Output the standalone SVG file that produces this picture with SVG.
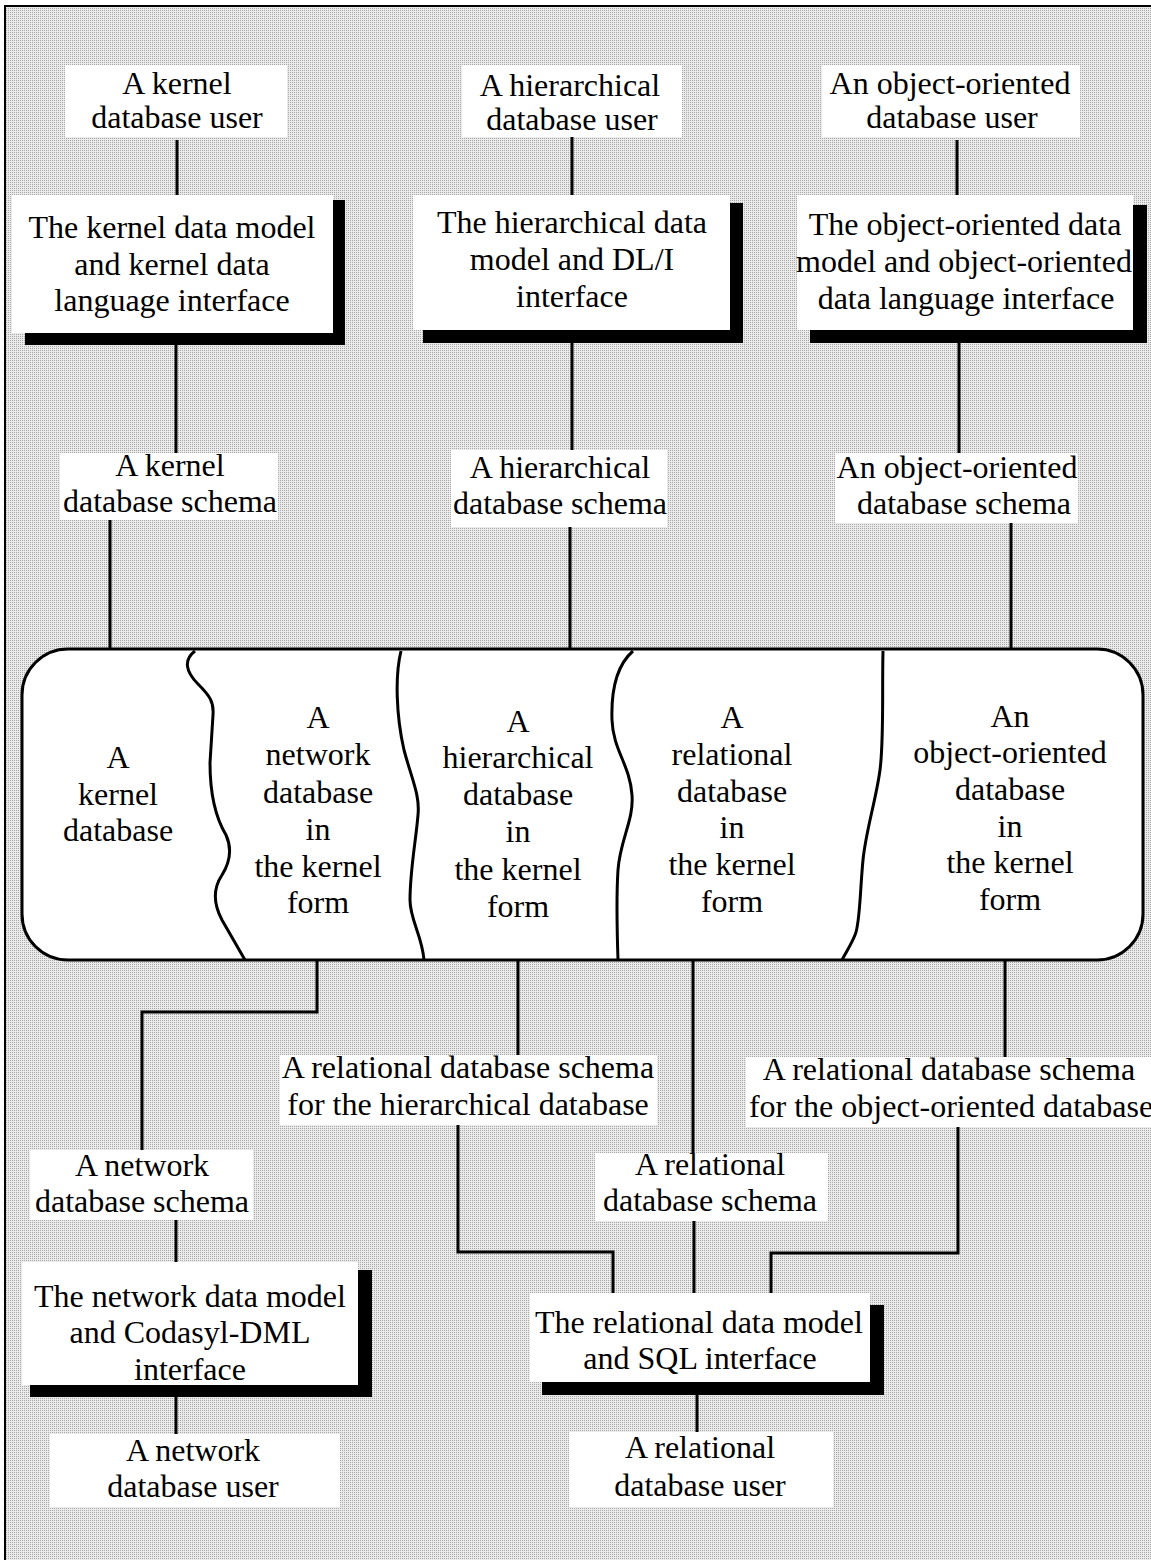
<svg xmlns="http://www.w3.org/2000/svg" width="1151" height="1560" viewBox="0 0 1151 1560">
  <defs>
    <!-- fine grey screen used as the page background -->
    <pattern id="stipple" x="0" y="0" width="2" height="2" patternUnits="userSpaceOnUse">
      <rect width="2" height="2" fill="#eaeaea"/>
      <rect x="0" y="0" width="1" height="1" fill="#a8a8a8"/>
    </pattern>
    <style>
      text { font-family: "Liberation Serif", "Times New Roman", serif; font-size: 32px; fill: #000; text-anchor: middle; }
      .label { fill: #fff; }
      .panel { fill: #fff; }
      .shadow { fill: #000; }
      .wire { stroke: #000; stroke-width: 3; fill: none; }
      .store { fill: #fff; stroke: #000; stroke-width: 3; }
      .split { fill: none; stroke: #000; stroke-width: 3; }
    </style>
  </defs>

  <!-- page -->
  <rect width="1151" height="1560" fill="#fff"/>
  <rect x="5" y="6" width="1146" height="1554" fill="url(#stipple)"/>
  <path d="M5,1560 V6 H1151" fill="none" stroke="#000" stroke-width="2"/>

  <!-- connectors -->
  <g id="connectors" class="wire">
    <path d="M177,140 V195"/>
    <path d="M176,345 V453"/>
    <path d="M110,520 V650"/>
    <path d="M572,135 V195"/>
    <path d="M572,343 V450"/>
    <path d="M570,527 V650"/>
    <path d="M957,140 V197"/>
    <path d="M959,343 V453"/>
    <path d="M1011,523 V650"/>
    <path d="M317,960 V1012 H142 V1150"/>
    <path d="M518,960 V1055"/>
    <path d="M693,960 V1153"/>
    <path d="M1005,960 V1057"/>
    <path d="M458,1125 V1252 H613 V1293"/>
    <path d="M694,1221 V1293"/>
    <path d="M958,1125 V1253 H771 V1293"/>
    <path d="M176,1220 V1262"/>
    <path d="M176,1397 V1434"/>
    <path d="M697,1395 V1432"/>
  </g>

  <!-- users and interfaces at the top -->
  <g id="kernel-user">
    <rect class="label" x="65" y="65" width="222" height="72"/>
    <text x="177" y="94">A kernel</text>
    <text x="177" y="128">database user</text>
  </g>
  <g id="hier-user">
    <rect class="label" x="462" y="65" width="220" height="72"/>
    <text x="570" y="96">A hierarchical</text>
    <text x="572" y="130">database user</text>
  </g>
  <g id="oo-user">
    <rect class="label" x="822" y="65" width="258" height="72"/>
    <text x="950" y="94">An object-oriented</text>
    <text x="952" y="128">database user</text>
  </g>

  <g id="kernel-interface">
    <rect class="panel" x="12" y="195" width="321" height="138"/>
    <path class="shadow" d="M333,200 H345 V345 H25 V333 H333 Z"/>
    <text x="172" y="238">The kernel data model</text>
    <text x="172" y="275">and kernel data</text>
    <text x="172" y="311">language interface</text>
  </g>
  <g id="hier-interface">
    <rect class="panel" x="413" y="195" width="317" height="135"/>
    <path class="shadow" d="M730,203 H743 V343 H423 V330 H730 Z"/>
    <text x="572" y="233">The hierarchical data</text>
    <text x="572" y="270">model and DL/I</text>
    <text x="572" y="307">interface</text>
  </g>
  <g id="oo-interface">
    <rect class="panel" x="797" y="195" width="336" height="135"/>
    <path class="shadow" d="M1133,205 H1147 V343 H810 V330 H1133 Z"/>
    <text x="965" y="235">The object-oriented data</text>
    <text x="964" y="272">model and object-oriented</text>
    <text x="966" y="309">data language interface</text>
  </g>

  <g id="kernel-schema">
    <rect class="label" x="60" y="453" width="218" height="67"/>
    <text x="170" y="476">A kernel</text>
    <text x="170" y="512">database schema</text>
  </g>
  <g id="hier-schema">
    <rect class="label" x="451" y="450" width="216" height="77"/>
    <text x="560" y="478">A hierarchical</text>
    <text x="560" y="514">database schema</text>
  </g>
  <g id="oo-schema">
    <rect class="label" x="835" y="453" width="243" height="70"/>
    <text x="957" y="478">An object-oriented</text>
    <text x="964" y="514">database schema</text>
  </g>

  <!-- the kernel database store and its partitions -->
  <g id="kernel-store">
    <rect class="store" x="22" y="649" width="1121" height="311" rx="46" ry="46"/>
    <path class="split" d="M195,651 C183,660 186,672 198,684 C210,696 214,702 213,715 L210,763 C210,790 214,815 226,835 C232,848 230,862 222,875 C212,890 214,905 222,920 L245,960"/>
    <path class="split" d="M401,651 C395,675 396,715 404,750 C412,780 420,795 418,815 C416,840 410,870 410,900 C410,920 422,935 424,960"/>
    <path class="split" d="M633,651 C617,665 611,690 612,720 C613,750 630,765 632,795 C634,820 620,840 618,870 C616,900 617,930 618,960"/>
    <path class="split" d="M883,651 C882,690 884,740 880,770 C876,800 866,830 863,860 C860,890 860,925 855,935 C851,945 846,952 842,960"/>
  </g>
  <g id="kernel-db">
    <text x="118" y="768">A</text>
    <text x="118" y="805">kernel</text>
    <text x="118" y="841">database</text>
  </g>
  <g id="network-db">
    <text x="318" y="728">A</text>
    <text x="318" y="765">network</text>
    <text x="318" y="803">database</text>
    <text x="318" y="840">in</text>
    <text x="318" y="877">the kernel</text>
    <text x="318" y="913">form</text>
  </g>
  <g id="hier-db">
    <text x="518" y="732">A</text>
    <text x="518" y="768">hierarchical</text>
    <text x="518" y="805">database</text>
    <text x="518" y="842">in</text>
    <text x="518" y="880">the kernel</text>
    <text x="518" y="917">form</text>
  </g>
  <g id="relational-db">
    <text x="732" y="728">A</text>
    <text x="732" y="765">relational</text>
    <text x="732" y="802">database</text>
    <text x="732" y="838">in</text>
    <text x="732" y="875">the kernel</text>
    <text x="732" y="912">form</text>
  </g>
  <g id="oo-db">
    <text x="1010" y="727">An</text>
    <text x="1010" y="763">object-oriented</text>
    <text x="1010" y="800">database</text>
    <text x="1010" y="837">in</text>
    <text x="1010" y="873">the kernel</text>
    <text x="1010" y="910">form</text>
  </g>

  <!-- schemas and interfaces at the bottom -->
  <g id="rel-schema-hier">
    <rect class="label" x="280" y="1055" width="377" height="70"/>
    <text x="468" y="1078">A relational database schema</text>
    <text x="468" y="1115">for the hierarchical database</text>
  </g>
  <g id="rel-schema-oo">
    <rect class="label" x="746" y="1057" width="405" height="70"/>
    <text x="949" y="1080">A relational database schema</text>
    <text x="951" y="1117">for the object-oriented database</text>
  </g>
  <g id="network-schema">
    <rect class="label" x="30" y="1150" width="223" height="70"/>
    <text x="142" y="1176">A network</text>
    <text x="142" y="1212">database schema</text>
  </g>
  <g id="rel-schema">
    <rect class="label" x="595" y="1153" width="233" height="68"/>
    <text x="710" y="1175">A relational</text>
    <text x="710" y="1211">database schema</text>
  </g>

  <g id="network-interface">
    <rect class="panel" x="22" y="1262" width="336" height="123"/>
    <path class="shadow" d="M358,1270 H372 V1397 H30 V1385 H358 Z"/>
    <text x="190" y="1307">The network data model</text>
    <text x="190" y="1343">and Codasyl-DML</text>
    <text x="190" y="1380">interface</text>
  </g>
  <g id="relational-interface">
    <rect class="panel" x="530" y="1293" width="340" height="89"/>
    <path class="shadow" d="M870,1305 H884 V1395 H542 V1382 H870 Z"/>
    <text x="699" y="1333">The relational data model</text>
    <text x="700" y="1369">and SQL interface</text>
  </g>

  <g id="network-user">
    <rect class="label" x="50" y="1434" width="290" height="73"/>
    <text x="193" y="1461">A network</text>
    <text x="193" y="1497">database user</text>
  </g>
  <g id="relational-user">
    <rect class="label" x="569" y="1432" width="264" height="75"/>
    <text x="700" y="1458">A relational</text>
    <text x="700" y="1496">database user</text>
  </g>
</svg>
